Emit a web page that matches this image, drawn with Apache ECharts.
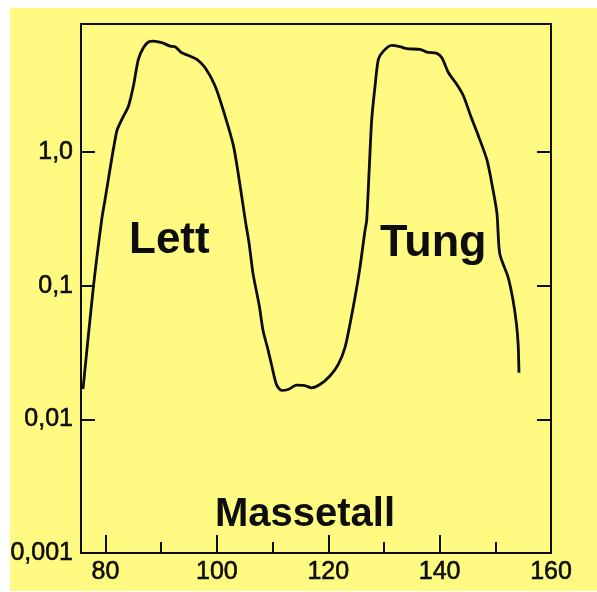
<!DOCTYPE html>
<html>
<head>
<meta charset="utf-8">
<script src="https://cdn.jsdelivr.net/npm/echarts@6/dist/echarts.min.js"></script>
<style>
html,body{margin:0;padding:0;background:#fff;}
#c{width:597px;height:592px;}
</style>
</head>
<body>
<div id="c"></div>
<script>
// Data
const massNumbers = [75.96, 77.8, 79.3, 79.9, 82.0, 82.9, 84.1, 85.0, 85.9, 86.8, 87.7, 88.6, 90.1, 91.6, 92.5, 93.7, 94.9, 96.4, 97.9, 99.7, 101.5, 103.0, 104.2, 105.1, 105.8, 106.5, 107.6, 108.3, 109.1, 109.8, 110.7, 111.6, 112.8, 114.3, 115.8, 117.0, 118.5, 120.3, 121.8, 123.0, 123.9, 124.8, 125.7, 126.6, 126.9, 127.35, 127.8, 128.4, 129.0, 129.9, 131.4, 132.9, 134.1, 136.5, 137.7, 139.5, 140.4, 141.6, 143.1, 144.3, 145.5, 146.9, 148.5, 149.6, 150.3, 150.8, 152.3, 153.2, 153.8, 154.1, 154.25];
const yields = [0.0168, 0.0958, 0.308, 0.436, 1.42, 1.74, 2.19, 3.10, 4.92, 6.02, 6.64, 6.75, 6.57, 6.19, 6.13, 5.52, 5.27, 4.92, 4.26, 3.10, 1.84, 1.10, 0.549, 0.308, 0.205, 0.1225, 0.0713, 0.0459, 0.0342, 0.0258, 0.0182, 0.01644, 0.0167, 0.0180, 0.0179, 0.0172, 0.0182, 0.0211, 0.0258, 0.0344, 0.0515, 0.0816, 0.137, 0.259, 0.308, 0.732, 1.74, 3.10, 4.92, 5.68, 6.27, 6.13, 5.92, 5.85, 5.58, 5.46, 5.07, 3.91, 3.19, 2.61, 1.90, 1.34, 0.871, 0.518, 0.346, 0.173, 0.1155, 0.0771, 0.0515, 0.0365, 0.0223];
const xLabelValues = [80, 100, 120, 140, 160];
const xMajorTicks = [80, 100, 120, 140];
const xMinorTicks = [90, 110, 130, 150];
const yTickValues = [0.001, 0.01, 0.1, 1];
const yTickLabels = ['0,001', '0,01', '0,1', '1,0'];
const xAxisTitle = 'Massetall';
const seriesLabels = ['Lett', 'Tung'];

const FONT = '"Liberation Sans", Arial, Helvetica, sans-serif';
const INK = '#0d0d0d';
const XMIN = 75.6, XMAX = 160, YMIN = 0.001, YMAX = 9.06;

function yLabel(v) {
  for (let i = 0; i < yTickValues.length; i++) {
    if (Math.abs(Math.log10(v) - Math.log10(yTickValues[i])) < 0.01) return yTickLabels[i];
  }
  return '';
}

const labelStyle = {color: INK, fontSize: 25, fontFamily: FONT, textBorderColor: INK, textBorderWidth: 0.6};

const chart = echarts.init(document.getElementById('c'), null, {renderer: 'canvas'});
chart.setOption({
  backgroundColor: '#ffffff',
  animation: false,
  graphic: [
    {type: 'rect', z: -10, silent: true, shape: {x: 10, y: 8, width: 587, height: 583}, style: {fill: '#FFFB82'}},
    {type: 'text', z: 10, style: {x: 129, y: 241, text: seriesLabels[0], font: 'bold 44px ' + FONT, fill: INK, align: 'left', verticalAlign: 'middle'}},
    {type: 'text', z: 10, style: {x: 380, y: 244, text: seriesLabels[1], font: 'bold 45px ' + FONT, fill: INK, align: 'left', verticalAlign: 'middle'}},
    {type: 'text', z: 10, style: {x: 305, y: 515, text: xAxisTitle, font: 'bold 40px ' + FONT, fill: INK, align: 'center', verticalAlign: 'middle'}}
  ],
  grid: {left: 81, right: 46, top: 24, bottom: 39, show: true, borderColor: INK, borderWidth: 2, backgroundColor: 'transparent'},
  xAxis: [
    {
      type: 'value', min: XMIN, max: XMAX, position: 'bottom',
      axisLine: {show: true, lineStyle: {color: INK, width: 2}},
      axisTick: {show: true, inside: true, length: 18, customValues: xMajorTicks, lineStyle: {color: INK, width: 2}},
      axisLabel: Object.assign({show: true, customValues: xLabelValues, margin: 7}, labelStyle),
      splitLine: {show: false}
    },
    {
      type: 'value', min: XMIN, max: XMAX, position: 'bottom',
      axisLine: {show: false},
      axisTick: {show: true, inside: true, length: 11, customValues: xMinorTicks, lineStyle: {color: INK, width: 2}},
      axisLabel: {show: false},
      splitLine: {show: false}
    }
  ],
  yAxis: [
    {
      type: 'log', logBase: 10, min: YMIN, max: YMAX, position: 'left',
      axisLine: {show: true, lineStyle: {color: INK, width: 2}},
      axisTick: {show: true, inside: true, length: 14, lineStyle: {color: INK, width: 2}},
      axisLabel: Object.assign({show: true, margin: 8, formatter: yLabel}, labelStyle),
      splitLine: {show: false}
    },
    {
      type: 'log', logBase: 10, min: YMIN, max: YMAX, position: 'right',
      axisLine: {show: true, lineStyle: {color: INK, width: 2}},
      axisTick: {show: true, inside: true, length: 14, lineStyle: {color: INK, width: 2}},
      axisLabel: {show: false},
      splitLine: {show: false}
    }
  ],
  series: [{
    type: 'line',
    xAxisIndex: 0, yAxisIndex: 0,
    data: massNumbers.map((m, i) => [m, yields[i]]),
    showSymbol: false,
    smooth: 0.25,
    lineStyle: {color: INK, width: 2.8},
    clip: false
  }]
});
</script>
</body>
</html>
